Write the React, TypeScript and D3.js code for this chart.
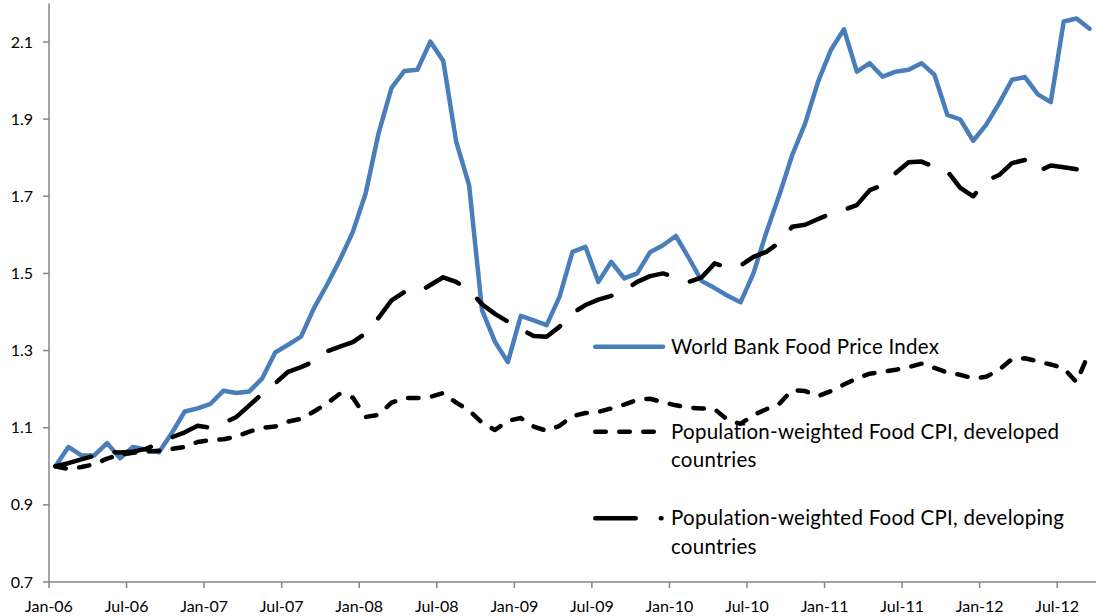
import * as d3 from 'd3'

// months run Jan-06 .. Sep-12, one value per month
const TICK_LABELS = ['Jan-06', 'Jul-06', 'Jan-07', 'Jul-07', 'Jan-08', 'Jul-08', 'Jan-09', 'Jul-09',
  'Jan-10', 'Jul-10', 'Jan-11', 'Jul-11', 'Jan-12', 'Jul-12']
const Y_TICKS = [0.7, 0.9, 1.1, 1.3, 1.5, 1.7, 1.9, 2.1]

const worldBank = [
  1.00, 1.05, 1.028, 1.028, 1.06, 1.021, 1.05, 1.043, 1.036, 1.086, 1.142, 1.15,
  1.162, 1.196, 1.19, 1.194, 1.228, 1.295, 1.315, 1.336, 1.41, 1.47, 1.535, 1.607,
  1.708, 1.864, 1.981, 2.025, 2.028, 2.101, 2.051, 1.842, 1.729, 1.405, 1.323, 1.27,
  1.39, 1.378, 1.366, 1.44, 1.556, 1.569, 1.478, 1.53, 1.487, 1.50, 1.555, 1.573,
  1.597, 1.54, 1.48, 1.462, 1.442, 1.425, 1.50, 1.607, 1.703, 1.807, 1.889, 1.997,
  2.08, 2.133, 2.023, 2.045, 2.01, 2.023, 2.028, 2.045, 2.015, 1.911, 1.899, 1.844,
  1.885, 1.941, 2.002, 2.009, 1.964, 1.944, 2.153, 2.161, 2.134,
]
const developed = [
  1.00, 0.993, 0.998, 1.005, 1.02, 1.03, 1.035, 1.038, 1.04, 1.045, 1.05, 1.063,
  1.068, 1.07, 1.077, 1.09, 1.10, 1.103, 1.116, 1.123, 1.142, 1.163, 1.188, 1.178,
  1.128, 1.133, 1.165, 1.177, 1.177, 1.18, 1.19, 1.165, 1.145, 1.113, 1.094, 1.118,
  1.125, 1.103, 1.092, 1.105, 1.13, 1.138, 1.141, 1.15, 1.16, 1.172, 1.175, 1.166,
  1.158, 1.152, 1.15, 1.148, 1.12, 1.11, 1.133, 1.148, 1.162, 1.198, 1.195, 1.182,
  1.195, 1.212, 1.228, 1.24, 1.245, 1.25, 1.257, 1.266, 1.255, 1.243, 1.237, 1.228,
  1.232, 1.25, 1.278, 1.28, 1.272, 1.264, 1.254, 1.218, 1.298,
]
const developing = [
  1.00, 1.008, 1.018, 1.027, 1.037, 1.036, 1.038, 1.045, 1.06, 1.075, 1.088, 1.105,
  1.10, 1.112, 1.128, 1.158, 1.188, 1.215, 1.245, 1.257, 1.272, 1.298, 1.31, 1.322,
  1.345, 1.385, 1.43, 1.452, 1.449, 1.47, 1.49, 1.478, 1.457, 1.42, 1.395, 1.375,
  1.355, 1.338, 1.336, 1.362, 1.397, 1.418, 1.432, 1.442, 1.455, 1.478, 1.493, 1.50,
  1.49, 1.478, 1.49, 1.526, 1.515, 1.52, 1.543, 1.556, 1.58, 1.621, 1.626, 1.641,
  1.655, 1.665, 1.677, 1.716, 1.729, 1.76, 1.788, 1.79, 1.776, 1.765, 1.722, 1.70,
  1.74, 1.755, 1.786, 1.794, 1.764, 1.78, 1.775, 1.77,
]

const BLUE = '#4A7EBB'
const AXIS = '#868686'
const FONT = 'Lato, "Liberation Sans", sans-serif'
const LW = 4.5

const W = 1096
const H = 616

export default function App() {
  const x = d3.scaleLinear().domain([0, 81]).range([49, 1096])
  const y = d3.scaleLinear().domain([0.7, 2.2]).range([582, 3.4])
  const line = d3.line<number>().x((_, i) => x(i + 0.5)).y((d) => y(d))

  const series = [
    { values: worldBank, color: BLUE, dash: undefined as string | undefined },
    { values: developed, color: '#000', dash: '10.5 13.5' },
    { values: developing, color: '#000', dash: '37 24' },
  ]

  // legend swatches: plain line, short dashes, long dash followed by a dot
  const legend = [
    { lines: ['World Bank Food Price Index'], color: BLUE, dash: undefined as string | undefined, y: 346.7, x2: 663 },
    { lines: ['Population-weighted Food CPI, developed', 'countries'], color: '#000', dash: '10.5 13.5', y: 431.7, x2: 655.75 },
    { lines: ['Population-weighted Food CPI, developing', 'countries'], color: '#000', dash: '40.5 25', y: 518.3, x2: 661.5 },
  ]

  return (
    <div style={{ position: 'fixed', left: 0, top: 0, width: W, height: H, background: '#fff' }}>
      <svg width={W} height={H} style={{ display: 'block' }}>
        {/* axes */}
        <line x1={49} x2={49} y1={3.4} y2={582} stroke={AXIS} strokeWidth={1.5} />
        <line x1={49} x2={1096} y1={582} y2={582} stroke={AXIS} strokeWidth={1.5} />
        {Y_TICKS.map((t) => (
          <g key={t}>
            <line x1={43} x2={49} y1={y(t)} y2={y(t)} stroke={AXIS} strokeWidth={1.5} />
            <text x={33} y={y(t)} dy="0.35em" textAnchor="end" fontFamily={FONT} fontSize={16} fill="#000">
              {t.toFixed(1)}
            </text>
          </g>
        ))}
        {TICK_LABELS.map((lab, k) => (
          <g key={lab}>
            <line x1={x(k * 6)} x2={x(k * 6)} y1={582} y2={588} stroke={AXIS} strokeWidth={1.5} />
            <text x={x(k * 6)} y={611.5} textAnchor="middle" fontFamily={FONT} fontSize={16} fill="#000">{lab}</text>
          </g>
        ))}

        {/* series */}
        {series.map((s, k) => (
          <path key={k} d={line(s.values) ?? ''} fill="none" stroke={s.color} strokeWidth={LW}
            strokeDasharray={s.dash} strokeLinecap="round" strokeLinejoin="round" />
        ))}

        {/* legend */}
        {legend.map((l, k) => (
          <g key={k}>
            <path d={`M595.25,${l.y}L${l.x2},${l.y}`} stroke={l.color} strokeWidth={LW} fill="none"
              strokeDasharray={l.dash} strokeLinecap="round" />
            {l.lines.map((t, j) => (
              <text key={j} x={671} y={l.y + 7 + j * 28.5} fontFamily={FONT} fontSize={20.5}
                letterSpacing={0.25} fill="#000">{t}</text>
            ))}
          </g>
        ))}
      </svg>
    </div>
  )
}
